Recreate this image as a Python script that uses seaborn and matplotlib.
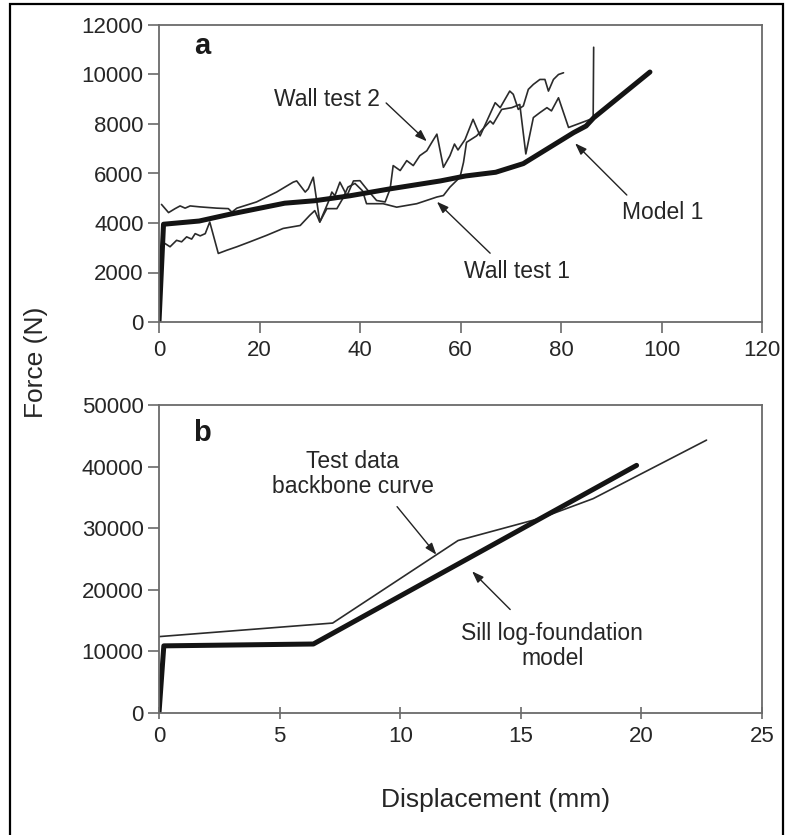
"""
Force-displacement comparison: wall tests vs models (panels a and b).
"""

import numpy as np
import matplotlib
matplotlib.use('Agg')
import matplotlib.pyplot as plt
import seaborn as sns
import pandas as pd
from matplotlib.patches import Rectangle

# ---- panel a data (displacement mm, force N) ----
model1_x = [0, 0.9, 8, 14, 25, 31, 38, 46, 56, 61, 67, 72.5, 82.5, 85, 86.5, 97.7]
model1_y = [0, 3950, 4080, 4350, 4800, 4900, 5100, 5380, 5700, 5900, 6050, 6400,
            7650, 7920, 8250, 10100]

wall1_x = [1.2, 2.2, 3.5, 4.5, 5.5, 6.5, 7.2, 8.2, 9.2, 10.1, 11.8, 13.5, 15.5, 18.1,
           21.4, 24.7, 28.1, 30, 31, 32, 33.4, 35.4, 36.6, 37.6, 39, 40.5, 41.3, 44.6,
           47.3, 51.3, 55.3, 56.6, 57.9, 59.9, 60.6, 61.2, 63.2, 65.9, 66.5, 68.2, 70.2,
           71.8, 73, 74.5, 75.8, 77.2, 78.1, 79.5, 81.5, 86.4, 86.5]
wall1_y = [3170, 3040, 3300, 3240, 3440, 3350, 3570, 3480, 3570, 4040, 2770, 2900, 3040,
           3240, 3500, 3780, 3900, 4310, 4500, 4040, 4580, 4580, 5000, 5450, 5600, 5300,
           4780, 4780, 4640, 4780, 5050, 5110, 5450, 5850, 6450, 7260, 7520, 8120, 8000,
           8590, 8660, 8790, 6790, 8260, 8460, 8660, 8530, 9060, 7860, 8230, 11100]

wall2_x = [0.5, 1.9, 3.2, 4.2, 5.2, 6.2, 8.2, 11.5, 13.8, 14.5, 15.5, 19.4, 23.4, 26.7,
           27.4, 29.1, 29.7, 30.7, 32, 33.7, 34.4, 35, 36, 37.4, 38.7, 40, 41.3, 43.3, 45,
           46, 46.6, 48, 49.3, 50.6, 51.9, 53.3, 54.3, 55.3, 56.6, 57.9, 58.8, 59.5, 60.9,
           62.5, 63.9, 66.9, 67.9, 69.8, 70.5, 71.5, 72.5, 73.5, 74.5, 75.8, 76.8, 77.5,
           78.5, 79.5, 80.5]
wall2_y = [4750, 4420, 4580, 4690, 4600, 4690, 4650, 4600, 4580, 4440, 4600, 4850, 5250,
           5650, 5700, 5250, 5380, 5850, 4040, 4850, 5250, 5100, 5650, 5100, 5700, 5710,
           5380, 4910, 4850, 5380, 6320, 6120, 6520, 6320, 6720, 6920, 7260, 7590, 6250,
           6720, 7190, 6950, 7370, 8190, 7520, 8860, 8660, 9330, 9200, 8590, 8730, 9400,
           9600, 9800, 9800, 9330, 9800, 10000, 10070]

# ---- panel b data ----
sill_x = [0, 0.2, 6.4, 19.8]
sill_y = [0, 10900, 11200, 40200]

backbone_x = [0, 7.2, 12.4, 15.8, 18, 22.7]
backbone_y = [12400, 14600, 28000, 31600, 34800, 44300]

xticks_a = [0, 20, 40, 60, 80, 100, 120]
yticks_a = [0, 2000, 4000, 6000, 8000, 10000, 12000]
xticks_b = [0, 5, 10, 15, 20, 25]
yticks_b = [0, 10000, 20000, 30000, 40000, 50000]

sns.set_style('white')
plt.rcParams['font.family'] = ['Liberation Sans', 'DejaVu Sans']

W, H = 794, 835
fig = plt.figure(figsize=(W / 100, H / 100), dpi=100)

spine_col = '#6a6a6a'
thin_col = '#2b2b2b'
thick_col = '#141414'
txt_col = '#262626'
tick_fs = 16
note_fs = 16.5
label_fs = 19


def px_axes(left, top, right, bottom):
    return [left / W, 1 - bottom / H, (right - left) / W, (bottom - top) / H]


def style_axes(ax, xdir='out'):
    for s in ax.spines.values():
        s.set_color(spine_col)
        s.set_linewidth(1.3)
    ax.tick_params(axis='y', direction='out', length=8, width=1.2, color=spine_col,
                   labelsize=tick_fs, labelcolor=txt_col, pad=3, left=True)
    ax.tick_params(axis='x', direction=xdir, length=8, width=1.2, color=spine_col,
                   labelsize=tick_fs, labelcolor=txt_col, pad=5, bottom=True)
    ax.set_xlabel('')
    ax.set_ylabel('')


arrow_kw = dict(arrowstyle='-|>,head_length=0.7,head_width=0.25', color='#222222', lw=1.0,
                shrinkA=0, shrinkB=0)

# ---- panel a ----
ax_a = fig.add_axes(px_axes(159, 25, 762, 322))
df_a = pd.concat([
    pd.DataFrame({'x': wall1_x, 'y': wall1_y, 's': 'Wall test 1'}),
    pd.DataFrame({'x': wall2_x, 'y': wall2_y, 's': 'Wall test 2'}),
])
for name, grp in df_a.groupby('s'):
    sns.lineplot(data=grp, x='x', y='y', sort=False, estimator=None, color=thin_col,
                 lw=1.2, ax=ax_a)
sns.lineplot(x=model1_x, y=model1_y, sort=False, estimator=None, color=thick_col,
             lw=3.6, ax=ax_a)
ax_a.set_xlim(0, 120)
ax_a.set_ylim(0, 12000)
ax_a.set_xticks(xticks_a)
ax_a.set_yticks(yticks_a)
style_axes(ax_a)
ax_a.text(0.071, 0.93, 'a', transform=ax_a.transAxes, fontsize=21, fontweight='bold',
          ha='center', va='center', color='#1a1a1a')
ax_a.text(33.5, 9000, 'Wall test 2', fontsize=note_fs, color=txt_col,
          ha='center', va='center')
ax_a.annotate('', xy=(53.3, 7300), xytext=(45.2, 8850), arrowprops=arrow_kw)
ax_a.text(71.3, 2060, 'Wall test 1', fontsize=note_fs, color=txt_col,
          ha='center', va='center')
ax_a.annotate('', xy=(55.3, 4860), xytext=(65.9, 2780), arrowprops=arrow_kw)
ax_a.text(100.2, 4420, 'Model 1', fontsize=note_fs, color=txt_col,
          ha='center', va='center')
ax_a.annotate('', xy=(82.8, 7220), xytext=(93.1, 5130), arrowprops=arrow_kw)

# ---- panel b ----
ax_b = fig.add_axes(px_axes(159, 405, 762, 713))
sns.lineplot(x=backbone_x, y=backbone_y, sort=False, estimator=None, color=thin_col,
             lw=1.2, ax=ax_b)
sns.lineplot(x=sill_x, y=sill_y, sort=False, estimator=None, color=thick_col,
             lw=3.6, ax=ax_b)
ax_b.set_xlim(0, 25)
ax_b.set_ylim(0, 50000)
ax_b.set_xticks(xticks_b)
ax_b.set_yticks(yticks_b)
style_axes(ax_b, xdir='inout')
ax_b.text(0.071, 0.908, 'b', transform=ax_b.transAxes, fontsize=21, fontweight='bold',
          ha='center', va='center', color='#1a1a1a')
ax_b.text(8.04, 38800, 'Test data\nbackbone curve', fontsize=note_fs, color=txt_col,
          ha='center', va='center', linespacing=1.1)
ax_b.annotate('', xy=(11.5, 25700), xytext=(9.87, 33500), arrowprops=arrow_kw)
ax_b.text(16.3, 10900, 'Sill log-foundation\nmodel', fontsize=note_fs, color=txt_col,
          ha='center', va='center', linespacing=1.1)
ax_b.annotate('', xy=(12.98, 23000), xytext=(14.56, 16800), arrowprops=arrow_kw)

# shared axis labels
fig.text(36 / W, 1 - 362 / H, 'Force (N)', rotation=90, fontsize=label_fs, color=txt_col,
         ha='center', va='center')
fig.text(496 / W, 1 - 800 / H, 'Displacement (mm)', fontsize=label_fs, color=txt_col,
         ha='center', va='center')

# outer frame
fig.patches.append(Rectangle((10 / W, -0.01), (783 - 10) / W, 1.01 - 4 / H,
                             transform=fig.transFigure, fill=False, lw=1.6,
                             edgecolor='black'))

fig.savefig('out.png', dpi=100)
plt.close(fig)
